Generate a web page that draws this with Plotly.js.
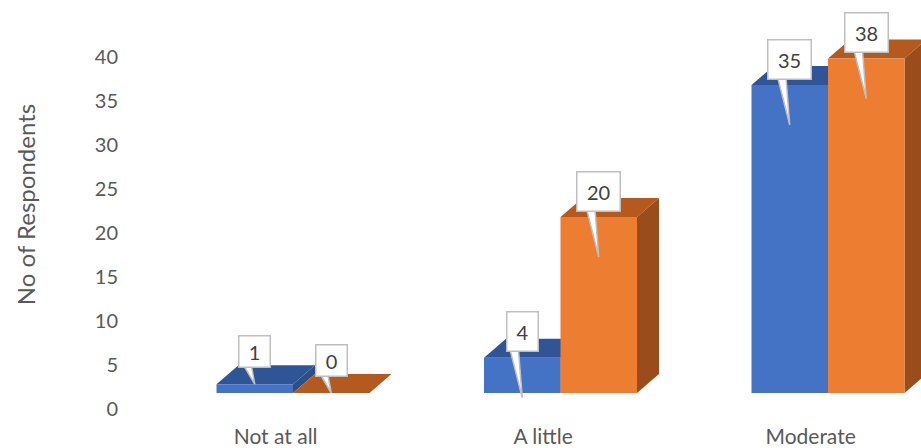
<!DOCTYPE html>
<html>
<head>
<meta charset="utf-8">
<script src="https://cdn.plot.ly/plotly-3.0.1.min.js"></script>
<style>html,body{margin:0;padding:0;background:#fff;}#chart{width:921px;height:448px;}</style>
</head>
<body>
<div id="chart"></div>
<script>
// ---- data ----
const categories = ["Not at all", "A little", "Moderate"];
const seriesA = [1, 4, 35];   // blue
const seriesB = [0, 20, 38];  // orange
const yTicks = [0, 5, 10, 15, 20, 25, 30, 35, 40];
const yTitle = "No of Respondents";

// ---- style / geometry ----
const W = 921, H = 448;
const mL = 122, mR = 0, mT = 0, mB = 39;
const plotW = W - mL - mR, plotH = H - mT - mB;
const pxPerCat = 267.5;           // pixels per category
const pxPerUnit = 8.8;            // pixels per value unit
const firstCenterPx = 293;        // pixel x of first group centre
const frontDropPx = 16;           // front faces sit lower than the tick axis
const barW = 0.286;               // bar width in category units
const depthXpx = 22, depthYpx = 19;
const dx = depthXpx / pxPerCat, dy = depthYpx / pxPerUnit;
const labelShift = -0.065;
const font = "Lato, 'Open Sans', sans-serif";
const textCol = "#595959";

const xMin = -(firstCenterPx - mL) / pxPerCat;
const xMax = xMin + plotW / pxPerCat;
const yTop = plotH / pxPerUnit;
const y2Min = -frontDropPx / pxPerUnit;

const series = [
  {vals: seriesA, front: "#4472C4", top: "#2F5597", side: "#2B4F8C", off: -barW},
  {vals: seriesB, front: "#ED7D31", top: "#B55A1E", side: "#9A4D1B", off: 0}
];
const idx = categories.map((c, i) => i);

const traces = [{type: "scatter", mode: "markers", x: [], y: [], xaxis: "x", yaxis: "y",
  showlegend: false, hoverinfo: "skip"}].concat(series.map(s => ({
  type: "bar", x: idx, y: s.vals, yaxis: "y2",
  width: s.vals.map(() => barW), offset: s.vals.map(() => s.off),
  marker: {color: s.front, line: {width: 0}},
  showlegend: false, hoverinfo: "skip"
})));

const shapes = [];
series.forEach(s => {
  s.vals.forEach((v, i) => {
    const xl = i + s.off, xr = xl + barW;
    shapes.push({type: "path", xref: "x", yref: "y2", layer: "below",
      path: `M ${xl},${v} L ${xl+dx},${v+dy} L ${xr+dx},${v+dy} L ${xr},${v} Z`,
      fillcolor: s.top, line: {width: 0}});
    shapes.push({type: "path", xref: "x", yref: "y2", layer: "below",
      path: `M ${xr},0 L ${xr},${v} L ${xr+dx},${v+dy} L ${xr+dx},${dy} Z`,
      fillcolor: s.side, line: {width: 0}});
  });
});

const annotations = [];
series.forEach(s => {
  s.vals.forEach((v, i) => {
    const cx = i + s.off + barW / 2;
    const big = v >= 4;
    const tip = big ? v - 40 / pxPerUnit : v;
    const lift = big ? 66 : 33;
    const boxH = big ? 36 : 28;
    const txt = String(v);
    const wedgeH = lift - boxH / 2 + 3;
    shapes.push({type: "path", xref: "x", yref: "y2", layer: "above",
      xsizemode: "pixel", ysizemode: "pixel", xanchor: cx, yanchor: tip,
      path: `M 0,0 L -13,${wedgeH} L -4,${wedgeH} Z`,
      fillcolor: "#ffffff", line: {color: "#BFBFBF", width: 1.5}});
    annotations.push({x: cx, y: tip, xref: "x", yref: "y2", text: txt,
      showarrow: false, yshift: lift, bgcolor: "#ffffff",
      bordercolor: "#BFBFBF", borderwidth: 1.5,
      width: 16 + 12 * txt.length, height: boxH,
      font: {family: font, size: 20, color: "#404040"}});
  });
});

const layout = {
  width: W, height: H,
  margin: {l: mL, r: mR, t: mT, b: mB},
  paper_bgcolor: "#ffffff", plot_bgcolor: "#ffffff",
  barmode: "overlay",
  xaxis: {range: [xMin, xMax], tickvals: idx.map(i => i + labelShift), ticktext: categories,
    showgrid: false, zeroline: false, showline: false, ticks: "", ticklabelstandoff: 13,
    tickfont: {family: font, size: 21, color: textCol}, fixedrange: true},
  yaxis: {range: [0, yTop], tickvals: yTicks, ticktext: yTicks.map(String),
    showgrid: false, zeroline: false, showline: false, ticks: "", ticklabelstandoff: 3,
    tickfont: {family: font, size: 20, color: textCol},
    title: {text: yTitle, font: {family: font, size: 24, color: textCol}, standoff: 52}},
  yaxis2: {range: [y2Min, y2Min + yTop], overlaying: "y", visible: false},
  shapes: shapes, annotations: annotations,
  showlegend: false
};

Plotly.newPlot("chart", traces, layout, {staticPlot: true, displayModeBar: false});
</script>
</body>
</html>
